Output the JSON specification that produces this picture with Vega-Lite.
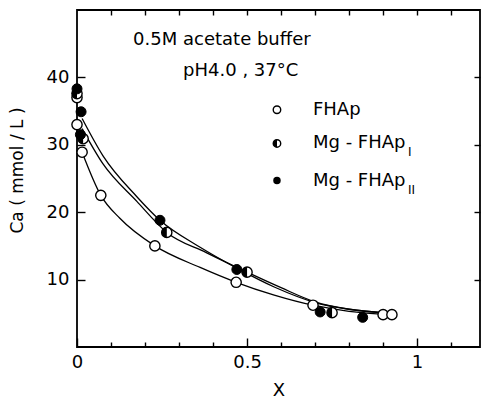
{
  "$schema": "https://vega.github.io/schema/vega-lite/v6.json",
  "width": 403,
  "height": 337,
  "autosize": "none",
  "padding": {"left": 77, "top": 10, "right": 1, "bottom": 52},
  "background": "white",
  "config": {
    "view": {"stroke": "black", "strokeWidth": 1.8},
    "font": "DejaVu Sans",
    "axis": {"grid": false, "domain": false, "tickColor": "black", "tickWidth": 1.4, "labelColor": "black", "titleColor": "black", "labelFont": "DejaVu Sans", "titleFont": "DejaVu Sans", "labelFontSize": 18, "titleFontSize": 17, "titleFontWeight": "normal", "labelFlush": false}
  },
  "datasets": {
    "points": [
      {"x": 0.0, "y": 37.0, "series": "FHAp"},
      {"x": 0.0, "y": 33.0, "series": "FHAp"},
      {"x": 0.015, "y": 28.9, "series": "FHAp"},
      {"x": 0.07, "y": 22.5, "series": "FHAp"},
      {"x": 0.229, "y": 15.0, "series": "FHAp"},
      {"x": 0.468, "y": 9.6, "series": "FHAp"},
      {"x": 0.694, "y": 6.2, "series": "FHAp"},
      {"x": 0.9, "y": 4.8, "series": "FHAp"},
      {"x": 0.926, "y": 4.8, "series": "FHAp"},
      {"x": 0.0, "y": 37.6, "series": "I"},
      {"x": 0.018, "y": 30.9, "series": "I"},
      {"x": 0.264, "y": 17.0, "series": "I"},
      {"x": 0.5, "y": 11.1, "series": "I"},
      {"x": 0.75, "y": 5.1, "series": "I"},
      {"x": 0.0, "y": 38.3, "series": "II"},
      {"x": 0.012, "y": 34.9, "series": "II"},
      {"x": 0.01, "y": 31.5, "series": "II"},
      {"x": 0.244, "y": 18.8, "series": "II"},
      {"x": 0.47, "y": 11.5, "series": "II"},
      {"x": 0.715, "y": 5.2, "series": "II"},
      {"x": 0.84, "y": 4.4, "series": "II"}
    ],
    "curves": [
      {"x": 0.015, "y": 28.9, "curve": "FHAp"},
      {"x": 0.07, "y": 22.5, "curve": "FHAp"},
      {"x": 0.126, "y": 19.1, "curve": "FHAp"},
      {"x": 0.229, "y": 15.0, "curve": "FHAp"},
      {"x": 0.362, "y": 11.8, "curve": "FHAp"},
      {"x": 0.468, "y": 9.6, "curve": "FHAp"},
      {"x": 0.58, "y": 7.7, "curve": "FHAp"},
      {"x": 0.694, "y": 6.2, "curve": "FHAp"},
      {"x": 0.8, "y": 5.3, "curve": "FHAp"},
      {"x": 0.92, "y": 4.8, "curve": "FHAp"},
      {"x": 0.015, "y": 33.9, "curve": "II"},
      {"x": 0.076, "y": 28.4, "curve": "II"},
      {"x": 0.176, "y": 22.3, "curve": "II"},
      {"x": 0.244, "y": 18.8, "curve": "II"},
      {"x": 0.362, "y": 14.8, "curve": "II"},
      {"x": 0.47, "y": 11.7, "curve": "II"},
      {"x": 0.58, "y": 8.9, "curve": "II"},
      {"x": 0.7, "y": 6.6, "curve": "II"},
      {"x": 0.8, "y": 5.6, "curve": "II"},
      {"x": 0.92, "y": 5.0, "curve": "II"},
      {"x": 0.015, "y": 32.4, "curve": "I"},
      {"x": 0.076, "y": 27.2, "curve": "I"},
      {"x": 0.176, "y": 21.6, "curve": "I"},
      {"x": 0.264, "y": 17.0, "curve": "I"},
      {"x": 0.38, "y": 14.0, "curve": "I"},
      {"x": 0.5, "y": 11.1, "curve": "I"},
      {"x": 0.6, "y": 8.8, "curve": "I"},
      {"x": 0.7, "y": 6.7, "curve": "I"},
      {"x": 0.8, "y": 5.6, "curve": "I"},
      {"x": 0.92, "y": 5.0, "curve": "I"}
    ],
    "legend": [
      {"x": 0.588, "y": 35.2, "series": "FHAp", "label": "FHAp", "sub": ""},
      {"x": 0.588, "y": 30.2, "series": "I", "label": "Mg - FHAp", "sub": "I"},
      {"x": 0.588, "y": 24.7, "series": "II", "label": "Mg - FHAp", "sub": "II"}
    ],
    "notes": [
      {"x": 0.165, "y": 45.5, "text": "0.5M  acetate buffer"},
      {"x": 0.312, "y": 41.0, "text": "pH4.0 , 37°C"}
    ]
  },
  "encoding": {
    "x": {"field": "x", "type": "quantitative", "scale": {"domain": [0, 1.185], "nice": false, "zero": false}},
    "y": {"field": "y", "type": "quantitative", "scale": {"domain": [0, 50], "nice": false, "zero": false}}
  },
  "layer": [
    {
      "data": {"name": "curves"},
      "mark": {"type": "line", "interpolate": "monotone", "color": "black", "strokeWidth": 1.3},
      "encoding": {
        "detail": {"field": "curve"},
        "x": {"field": "x", "type": "quantitative", "axis": {"orient": "bottom", "values": [0, 0.5, 1], "tickSize": -9, "labelPadding": 15, "format": "~g", "title": "X", "titlePadding": 10, "titleFontSize": 18}},
        "y": {"field": "y", "type": "quantitative", "axis": {"orient": "left", "values": [10, 20, 30, 40], "tickSize": -8, "labelPadding": 16, "title": "Ca ( mmol / L )", "titlePadding": 20, "titleY": 160}}
      }
    },
    {
      "data": {"name": "points"},
      "transform": [{"filter": "datum.series == 'FHAp' || datum.series == 'I'"}],
      "mark": {"type": "point", "shape": "circle", "filled": true, "fill": "white", "stroke": "black", "strokeWidth": 1.4, "size": 105, "opacity": 1},
      "encoding": {
        "x": {"field": "x", "type": "quantitative", "axis": {"orient": "bottom", "values": [0.1, 0.2, 0.3, 0.4, 0.6, 0.7, 0.8, 0.9, 1.1], "tickSize": -5, "labels": false, "title": null}},
        "y": {"field": "y", "type": "quantitative", "axis": {"orient": "right", "values": [10, 20, 30, 40], "tickSize": -6, "labels": false, "title": null}}
      }
    },
    {
      "data": {"name": "points"},
      "transform": [{"filter": "datum.series == 'I'"}],
      "mark": {"type": "point", "shape": "M0,-1A1,1,0,0,0,0,1Z", "filled": true, "fill": "black", "strokeWidth": 0, "size": 105, "opacity": 1},
      "encoding": {
        "x": {"field": "x", "type": "quantitative", "axis": {"orient": "top", "values": [0.1, 0.2, 0.3, 0.4, 0.5, 0.6, 0.7, 0.8, 0.9, 1.0, 1.1], "tickSize": -5, "labels": false, "title": null}},
        "y": {"field": "y", "type": "quantitative", "axis": null}
      }
    },
    {
      "data": {"name": "points"},
      "transform": [{"filter": "datum.series == 'II'"}],
      "mark": {"type": "point", "shape": "circle", "filled": true, "fill": "black", "stroke": "black", "strokeWidth": 1, "size": 100, "opacity": 1},
      "encoding": {
        "x": {"field": "x", "type": "quantitative", "axis": null},
        "y": {"field": "y", "type": "quantitative", "axis": null}
      }
    },
    {
      "data": {"name": "legend"},
      "transform": [{"filter": "datum.series != 'II'"}],
      "mark": {"type": "point", "shape": "circle", "filled": true, "fill": "white", "stroke": "black", "strokeWidth": 1.4, "size": 56, "opacity": 1},
      "encoding": {
        "x": {"field": "x", "type": "quantitative", "axis": null},
        "y": {"field": "y", "type": "quantitative", "axis": null}
      }
    },
    {
      "data": {"name": "legend"},
      "transform": [{"filter": "datum.series == 'I'"}],
      "mark": {"type": "point", "shape": "M0,-1A1,1,0,0,0,0,1Z", "filled": true, "fill": "black", "strokeWidth": 0, "size": 56, "opacity": 1},
      "encoding": {
        "x": {"field": "x", "type": "quantitative", "axis": null},
        "y": {"field": "y", "type": "quantitative", "axis": null}
      }
    },
    {
      "data": {"name": "legend"},
      "transform": [{"filter": "datum.series == 'II'"}],
      "mark": {"type": "point", "shape": "circle", "filled": true, "fill": "black", "size": 56, "opacity": 1},
      "encoding": {
        "x": {"field": "x", "type": "quantitative", "axis": null},
        "y": {"field": "y", "type": "quantitative", "axis": null}
      }
    },
    {
      "data": {"name": "legend"},
      "mark": {"type": "text", "align": "left", "baseline": "middle", "dx": 36, "fontSize": 18, "color": "black"},
      "encoding": {
        "x": {"field": "x", "type": "quantitative", "axis": null},
        "y": {"field": "y", "type": "quantitative", "axis": null},
        "text": {"field": "label"}
      }
    },
    {
      "data": {"name": "legend"},
      "mark": {"type": "text", "align": "left", "baseline": "middle", "dx": 131, "dy": 9, "fontSize": 12, "color": "black"},
      "encoding": {
        "x": {"field": "x", "type": "quantitative", "axis": null},
        "y": {"field": "y", "type": "quantitative", "axis": null},
        "text": {"field": "sub"}
      }
    },
    {
      "data": {"name": "notes"},
      "mark": {"type": "text", "align": "left", "baseline": "middle", "fontSize": 18, "color": "black"},
      "encoding": {
        "x": {"field": "x", "type": "quantitative", "axis": null},
        "y": {"field": "y", "type": "quantitative", "axis": null},
        "text": {"field": "text"}
      }
    }
  ],
  "resolve": {"axis": {"x": "independent", "y": "independent"}}
}
